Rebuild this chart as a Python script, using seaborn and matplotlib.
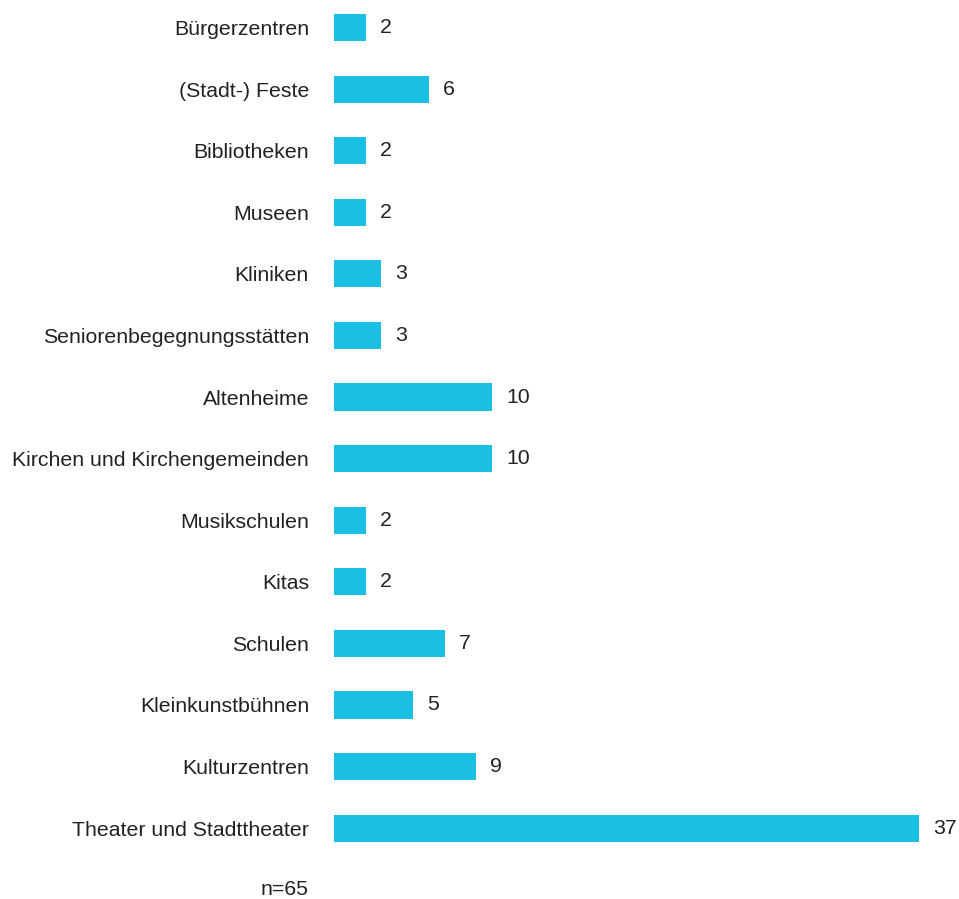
import matplotlib
matplotlib.use("Agg")
import matplotlib.pyplot as plt
import matplotlib.transforms as mtransforms
import seaborn as sns
import pandas as pd

# Data
categories = [
    "Bürgerzentren",
    "(Stadt-) Feste",
    "Bibliotheken",
    "Museen",
    "Kliniken",
    "Seniorenbegegnungsstätten",
    "Altenheime",
    "Kirchen und Kirchengemeinden",
    "Musikschulen",
    "Kitas",
    "Schulen",
    "Kleinkunstbühnen",
    "Kulturzentren",
    "Theater und Stadttheater",
]
counts = [2, 6, 2, 2, 3, 3, 10, 10, 2, 2, 7, 5, 9, 37]
sample_note = "n=65"

sns.set_theme(style="white")
plt.rcParams["font.family"] = ["Liberation Sans", "DejaVu Sans"]

df = pd.DataFrame({"Kategorie": categories, "Anzahl": counts})

W, H = 959, 899
fig = plt.figure(figsize=(W / 100, H / 100), dpi=100)
ax = fig.add_axes([334 / W, 0, 585 / W, 1])

sns.barplot(data=df, y="Kategorie", x="Anzahl", orient="h", color="#1bbfe4",
            saturation=1, width=0.44, linewidth=0, ax=ax)

ax.set_xlim(0, max(counts))
ax.set_ylim(14.15, -0.446)
ax.set_yticks(range(len(categories) + 1))
ax.set_yticklabels(categories + [sample_note])
ax.tick_params(axis="y", length=0, pad=18, labelsize=15.3, labelcolor="#222222")
ax.set_xticks([])
ax.set_xlabel("")
ax.set_ylabel("")
sns.despine(ax=ax, left=True, bottom=True)

# nudge the sample-size note up a little so it stays inside the figure
note = ax.get_yticklabels()[-1]
note.set_transform(note.get_transform() + mtransforms.ScaledTranslation(0, 2 / 100, fig.dpi_scale_trans))

for container in ax.containers:
    ax.bar_label(container, padding=10, fontsize=15.3, color="#222222")

fig.savefig("out.png", dpi=100)
